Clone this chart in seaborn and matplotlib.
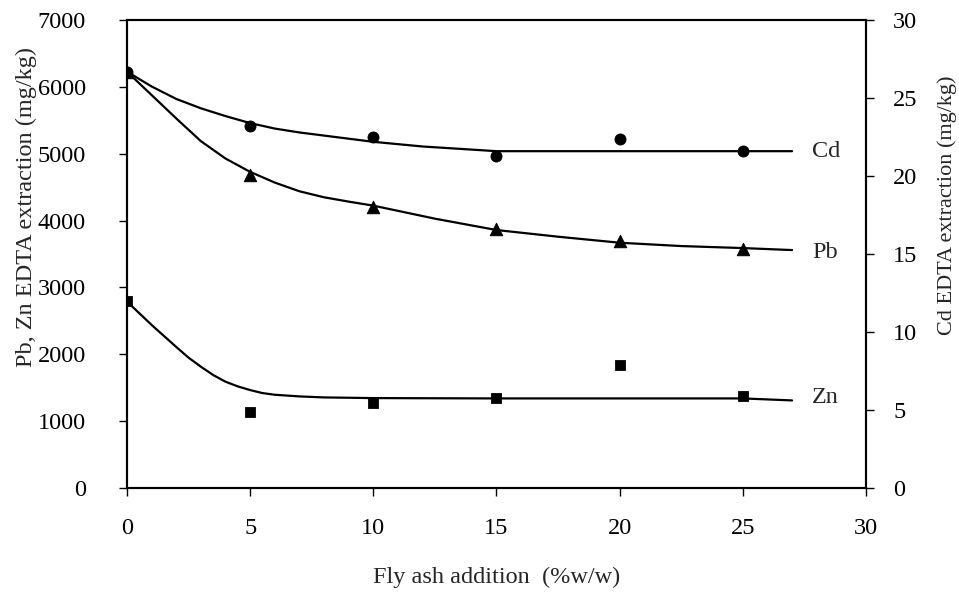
import numpy as np
import pandas as pd
import seaborn as sns
import matplotlib.pyplot as plt

# measured points
fly_ash = [0, 5, 10, 15, 20, 25]
pb_points = [6230, 4680, 4200, 3880, 3700, 3580]
zn_points = [2800, 1140, 1270, 1350, 1840, 1370]
cd_points = [26.7, 23.2, 22.5, 21.3, 22.4, 21.6]

# fitted trend lines
pb_fit_x = [0, 1, 2, 3, 4, 5, 6, 7, 8, 9, 10, 12.5, 15, 17.5, 20, 22.5, 25, 27]
pb_fit = [6230, 5880, 5530, 5190, 4930, 4730, 4570, 4440, 4350, 4285, 4225,
          4030, 3860, 3760, 3670, 3620, 3590, 3560]

zn_fit_x = [0, 1, 2, 2.5, 3, 3.5, 4, 4.5, 5, 5.5, 6, 7, 8, 10, 15, 20, 25, 27]
zn_fit = [2790, 2440, 2110, 1950, 1815, 1690, 1590, 1520, 1465, 1420, 1395, 1370,
          1355, 1345, 1340, 1340, 1340, 1310]

cd_fit_x = [0, 1, 2, 3, 4, 5, 6, 7, 8, 10, 12, 14, 15, 20, 25, 27]
cd_fit = [26.7, 25.75, 24.95, 24.35, 23.85, 23.4, 23.05, 22.8, 22.6, 22.2, 21.9,
          21.7, 21.6, 21.6, 21.6, 21.6]

sns.set_style("ticks")
plt.rcParams['font.family'] = ['Liberation Serif', 'DejaVu Serif']
fs = 17.5

fig = plt.figure(figsize=(9.59, 5.94), dpi=100)
ax = fig.add_axes([0.1324, 0.1785, 0.7706, 0.7875])
ax2 = ax.twinx()

pts = pd.DataFrame({"x": fly_ash, "Pb": pb_points, "Zn": zn_points, "Cd": cd_points})

# Pb and Zn on the left axis
sns.lineplot(x=pb_fit_x, y=pb_fit, ax=ax, color="black", linewidth=1.6)
sns.lineplot(x=zn_fit_x, y=zn_fit, ax=ax, color="black", linewidth=1.6)
sns.scatterplot(data=pts, x="x", y="Pb", ax=ax, marker="^", s=80, color="black",
                edgecolor="black", zorder=5)
sns.scatterplot(data=pts, x="x", y="Zn", ax=ax, marker="s", s=55, color="black",
                edgecolor="black", zorder=5)

# Cd on the right axis
sns.lineplot(x=cd_fit_x, y=cd_fit, ax=ax2, color="black", linewidth=1.6)
sns.scatterplot(data=pts, x="x", y="Cd", ax=ax2, marker="o", s=63, color="black",
                edgecolor="black", zorder=5)

ax.set_xlim(0, 30)
ax.set_ylim(0, 7000)
ax2.set_ylim(0, 30)
ax.set_xticks(range(0, 31, 5))
ax.set_yticks(range(0, 7001, 1000))
ax2.set_yticks(range(0, 31, 5))

ax.set_xlabel("Fly ash addition  (%w/w)", fontsize=fs, labelpad=20)
ax.set_ylabel("Pb, Zn EDTA extraction (mg/kg)", fontsize=fs)
ax2.set_ylabel("Cd EDTA extraction (mg/kg)", fontsize=16)
ax.yaxis.set_label_coords(-0.122, 0.60)
ax2.yaxis.set_label_coords(1.096, 0.605)

for a in (ax, ax2):
    for side in a.spines.values():
        side.set_visible(True)
        side.set_color("black")
        side.set_linewidth(1.5)
    a.tick_params(direction="out", length=5.5, width=1, colors="black", labelsize=fs)
ax.tick_params(axis="y", pad=24)
ax.tick_params(axis="x", pad=16)
ax2.tick_params(axis="y", pad=14)

# series labels at the line ends
ax2.text(27.8, 21.6, "Cd", va="center", ha="left", fontsize=fs)
ax.text(27.8, 3530, "Pb", va="center", ha="left", fontsize=fs)
ax.text(27.8, 1350, "Zn", va="center", ha="left", fontsize=fs)

fig.savefig("out.png", dpi=100)
